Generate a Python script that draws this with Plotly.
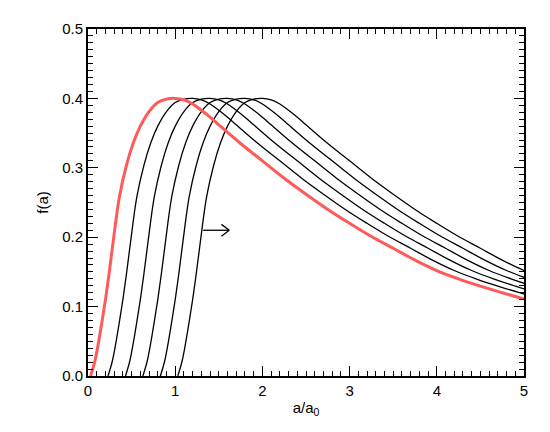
import plotly.graph_objects as go

# red reference curve f(a)
a_vals = [0.03, 0.08, 0.12, 0.16, 0.20, 0.24, 0.29, 0.36, 0.44, 0.52, 0.60, 0.70,
          0.80, 0.90, 1.00, 1.10, 1.20, 1.30, 1.40, 1.50, 1.75, 2.00, 2.25, 2.50,
          2.75, 3.00, 3.25, 3.50, 3.75, 4.00, 4.25, 4.50, 4.75, 5.00]
f_vals = [0.000, 0.022, 0.048, 0.078, 0.110, 0.146, 0.195, 0.258, 0.303, 0.336,
          0.360, 0.381, 0.394, 0.399, 0.400, 0.398, 0.392, 0.383, 0.373, 0.362,
          0.335, 0.310, 0.285, 0.262, 0.240, 0.220, 0.201, 0.184, 0.167, 0.152,
          0.140, 0.1295, 0.120, 0.111]

# black curves are the same profile moved to the right
shifts = [0.2, 0.4, 0.6, 0.8, 1.0]

# arrow
arrow_x = [1.32, 1.62]
arrow_y = 0.21

x_ticks = [0, 1, 2, 3, 4, 5]
y_ticks = [0.0, 0.1, 0.2, 0.3, 0.4, 0.5]

FONT = "Liberation Sans"

fig = go.Figure()

for s in shifts:
    fig.add_trace(go.Scatter(
        x=[a + s for a in a_vals], y=f_vals,
        mode="lines", line=dict(color="black", width=1.3, shape="spline", smoothing=1.0),
        showlegend=False, hoverinfo="skip"
    ))

fig.add_trace(go.Scatter(
    x=a_vals, y=f_vals,
    mode="lines", line=dict(color="#ff5a5a", width=3, shape="spline", smoothing=1.0),
    showlegend=False, hoverinfo="skip"
))

# arrow shaft and open head
fig.add_shape(type="line", x0=arrow_x[0], x1=arrow_x[1], y0=arrow_y, y1=arrow_y,
              line=dict(color="black", width=1.3))
fig.add_shape(type="line", x0=arrow_x[1] - 0.09, x1=arrow_x[1], y0=arrow_y + 0.0085, y1=arrow_y,
              line=dict(color="black", width=1.3))
fig.add_shape(type="line", x0=arrow_x[1] - 0.09, x1=arrow_x[1], y0=arrow_y - 0.0085, y1=arrow_y,
              line=dict(color="black", width=1.3))

axis_common = dict(
    showgrid=False, zeroline=False,
    showline=True, linecolor="black", linewidth=2, mirror="ticks",
    ticks="inside", ticklen=10, tickwidth=1.3, tickcolor="black",
    tickfont=dict(family=FONT, size=15, color="black"),
)

fig.update_xaxes(
    range=[0, 5], tickvals=x_ticks, ticktext=[str(v) for v in x_ticks],
    minor=dict(ticks="inside", dtick=0.1, ticklen=5, tickwidth=1.3, tickcolor="black"),
    title=dict(text="a/a<sub>0</sub>", font=dict(family=FONT, size=15, color="black"), standoff=4),
    **axis_common
)
fig.update_yaxes(
    range=[0, 0.5], tickvals=y_ticks, ticktext=["%.1f" % v for v in y_ticks],
    minor=dict(ticks="inside", dtick=0.01, ticklen=5, tickwidth=1.3, tickcolor="black"),
    title=dict(text="f(a)", font=dict(family=FONT, size=15, color="black"), standoff=10),
    **axis_common
)

# the page has an 8px body margin, so the figure is shrunk to fit
fig.update_layout(
    width=542, height=424,
    margin=dict(l=80, r=26, t=19, b=56),
    plot_bgcolor="white", paper_bgcolor="white",
)

fig.write_html("out.html")
